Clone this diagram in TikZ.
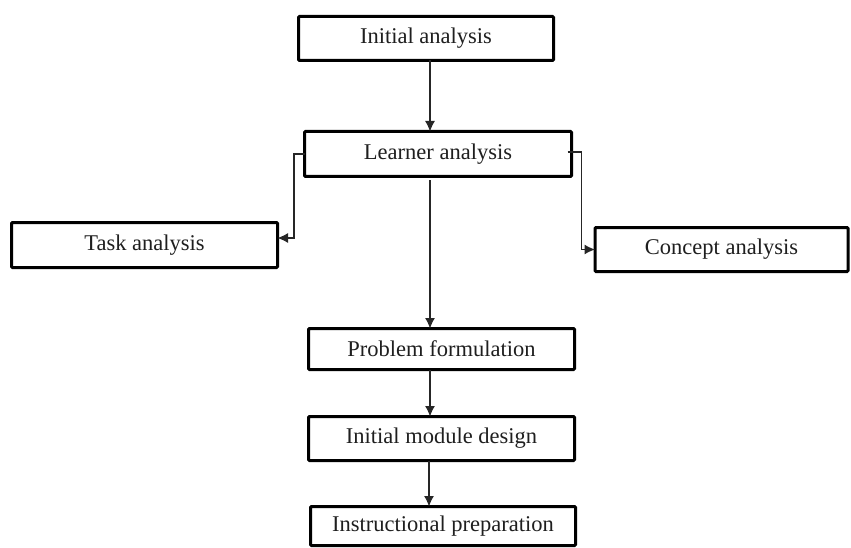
\documentclass[tikz,border=0pt]{standalone}
\usepackage{fontspec}
\setmainfont{Liberation Serif}
\usetikzlibrary{arrows.meta}
\begin{document}
\begin{tikzpicture}[x=1pt,y=-1pt,
  stagebox/.style={draw=black,line width=3pt,rounded corners=1pt,fill=white,inner sep=0pt,outer sep=0pt,
    font=\fontsize{22.5}{25}\selectfont,text=black!88},
  link/.style={draw=black!85,line width=1.1pt,-{Latex[length=10.5pt,width=10pt]}}]
\useasboundingbox (0,0) rectangle (851,548);
\node[stagebox,minimum width=255pt,minimum height=44pt] (init) at (426,38.5) {Initial analysis};
\node[stagebox,minimum width=267pt,minimum height=45pt] (learn) at (438,154) {Learner analysis};
\node[stagebox,minimum width=266pt,minimum height=45pt] (task) at (144.5,245) {Task analysis};
\node[stagebox,minimum width=253pt,minimum height=44pt] (concept) at (721.5,249.5) {Concept analysis};
\node[stagebox,minimum width=266pt,minimum height=41pt] (prob) at (441.5,349) {Problem formulation};
\node[stagebox,minimum width=266pt,minimum height=44pt] (module) at (441.5,438.5) {Initial module design};
\node[stagebox,minimum width=265pt,minimum height=39pt] (instr) at (443,526) {Instructional preparation};
\coordinate (cx) at (430,0);
\coordinate (cy) at (429,0);
\draw[link] (init.south -| cx) -- (learn.north -| cx);
\draw[link] (learn.west) -- ++(-10.5,0) |- ([yshift=7pt]task.east);
\draw[link] ([xshift=-4pt,yshift=2pt]learn.east) -- ++(14,0) |- (concept.west);
\draw[link] ([yshift=-4pt]learn.south -| cx) -- (prob.north -| cx);
\draw[link] (prob.south -| cx) -- (module.north -| cx);
\draw[link] (module.south -| cy) -- (instr.north -| cy);
\end{tikzpicture}
\end{document}
